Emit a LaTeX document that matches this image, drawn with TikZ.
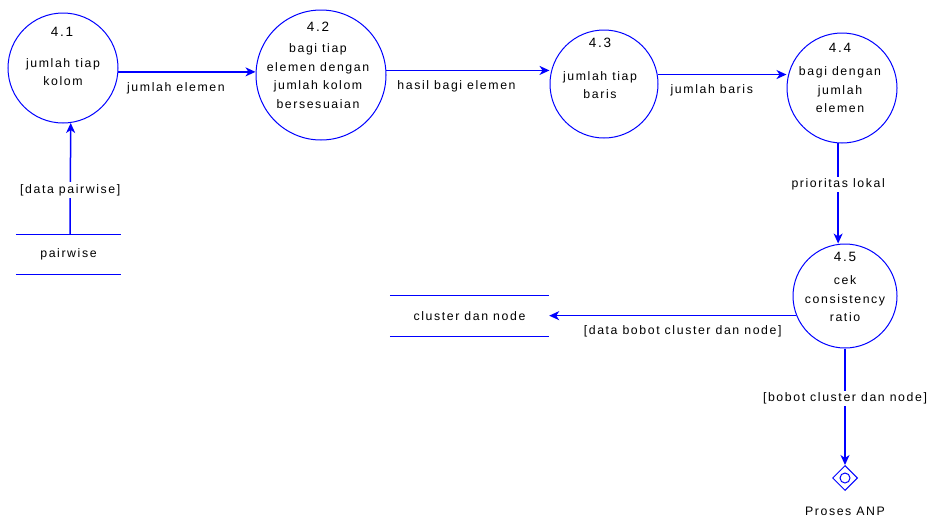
\documentclass[tikz,border=0pt]{standalone}
\usepackage{fontspec}
\setmainfont{Liberation Sans}[LetterSpace=13]
\usetikzlibrary{arrows.meta,shapes.geometric}
\definecolor{dfd}{RGB}{0,0,255}
\begin{document}
\begin{tikzpicture}[x=1pt,y=-1pt,
  proc/.style={circle,draw=dfd,line width=1pt,minimum size=#1,inner sep=0pt},
  txt/.style={font=\fontsize{12.3}{18.5}\selectfont,align=center,inner sep=1pt,text=black},
  num/.style={font=\fontsize{13.5}{15}\selectfont,inner sep=0pt,text=black},
  flow/.style={draw=dfd,line width=1.5pt,-{Stealth[length=10pt,width=9pt,inset=3pt]}},
  lbl/.style={txt,fill=white,inner sep=2pt},
  under/.style={txt,yshift=-16pt},
  storebox/.style={txt,minimum width=#1,minimum height=40pt,inner sep=0pt},
  storeline/.style={draw=dfd,line width=1.2pt}]
\useasboundingbox (0,0) rectangle (928,517);
% processes
\node[proc=110pt] (p41) at (63,68) {};
\node[num] (p41n) at (62,32) {4.1};
\node[txt] (p41t) at (63,72) {jumlah tiap\\kolom};
\node[proc=130pt] (p42) at (321,75) {};
\node[num] (p42n) at (318,27) {4.2};
\node[txt] (p42t) at (318,76) {bagi tiap\\elemen dengan\\jumlah kolom\\bersesuaian};
\node[proc=108pt] (p43) at (604,84) {};
\node[num] (p43n) at (600,43) {4.3};
\node[txt] (p43t) at (600,85) {jumlah tiap\\baris};
\node[proc=110pt] (p44) at (842,88) {};
\node[num] (p44n) at (840,48) {4.4};
\node[txt] (p44t) at (840,90) {bagi dengan\\jumlah\\elemen};
\node[proc=104pt] (p45) at (845,296) {};
\node[num] (p45n) at (845,257) {4.5};
\node[txt] (p45t) at (845,299) {cek\\consistency\\ratio};
% stores
\node[storebox=105pt,minimum height=39pt] (pw) at (68.5,254.5) {pairwise};
\draw[storeline] (pw.north west) -- (pw.north east) (pw.south west) -- (pw.south east);
\node[storebox=159pt] (cdn) at (469.5,316) {cluster dan node};
\draw[storeline] (cdn.north west) -- (cdn.north east) (cdn.south west) -- (cdn.south east);
% external
\node[diamond,draw=dfd,line width=1pt,minimum size=25pt,inner sep=0pt] (anp) at (845,478) {};
\node[circle,draw=dfd,line width=1pt,minimum size=10pt,inner sep=0pt] (anpc) at (anp.center) {};
\node[txt] (anpl) at (845,511) {Proses ANP};
% flows
\draw[flow] ([xshift=1.5pt]pw.north) -- node[lbl,pos=0.4] {[data pairwise]} (p41.-82.7);
\draw[flow] (p41.-4) -- node[under,pos=0.42] {jumlah elemen} (p41.-4 -| p42.west);
\draw[flow] (p42.4.4) -- node[under,pos=0.43] {hasil bagi elemen} (p42.4.4 -| p43.west);
\draw[flow] (p43.10.7) -- node[under,pos=0.42] {jumlah baris} (p43.10.7 -| p44.west);
\draw[flow] (p44.-94.2) -- node[lbl,pos=0.41] {prioritas lokal} (p44.-94.2 |- p45.north);
\draw[flow] (p45.202.6) -- node[under,pos=0.46] {[data bobot cluster dan node]} (p45.202.6 -| cdn.east);
\draw[flow] (p45.south) -- node[lbl,pos=0.43] {[bobot cluster dan node]} (anp.north);
\end{tikzpicture}
\end{document}
